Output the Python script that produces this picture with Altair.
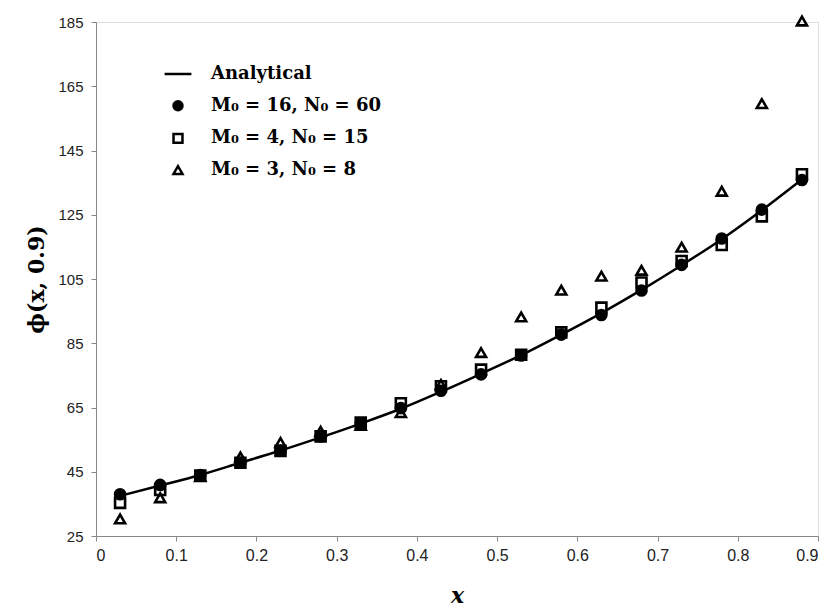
import altair as alt
import pandas as pd

x_vals = [0.03, 0.08, 0.13, 0.18, 0.23, 0.28, 0.33, 0.38, 0.43,
          0.48, 0.53, 0.58, 0.63, 0.68, 0.73, 0.78, 0.83, 0.88]
analytical = [37.5, 40.7, 44.0, 47.8, 51.6, 55.7, 60.0, 64.6, 69.9,
              75.5, 81.3, 87.7, 94.4, 101.6, 109.3, 117.4, 126.4, 136.0]
m16_n60 = [38.0, 40.9, 44.0, 47.8, 51.6, 56.0, 60.1, 64.8, 70.2,
           75.3, 81.2, 87.7, 93.8, 101.4, 109.4, 117.6, 126.6, 135.8]
m4_n15 = [35.3, 39.3, 43.8, 47.8, 51.5, 56.0, 60.3, 66.3, 71.6,
          76.8, 81.4, 88.4, 96.1, 103.9, 110.6, 115.6, 124.5, 137.6]
m3_n8 = [30.3, 36.9, 43.5, 49.6, 54.1, 57.6, 59.4, 63.4, 72.2,
         82.1, 93.2, 101.5, 105.9, 107.7, 114.9, 132.3, 159.6, 185.3]

series_names = ["Analytical", "M₀ = 16, N₀ = 60", "M₀ = 4, N₀ = 15", "M₀ = 3, N₀ = 8"]
y_ticks = [25, 45, 65, 85, 105, 125, 145, 165, 185]
x_ticks = [0, 0.1, 0.2, 0.3, 0.4, 0.5, 0.6, 0.7, 0.8, 0.9]

line_df = pd.DataFrame({"x": x_vals, "y": analytical})
pts = []
for name, vals in zip(series_names[1:], [m16_n60, m4_n15, m3_n8]):
    for xv, yv in zip(x_vals, vals):
        pts.append({"x": xv, "y": yv, "series": name})
pts_df = pd.DataFrame(pts)

x_enc = alt.X("x:Q", scale=alt.Scale(domain=[0, 0.9], nice=False),
              axis=alt.Axis(values=x_ticks, title="x", format="~g", grid=False,
                            titleFont="DejaVu Serif", titleFontSize=22,
                            titleFontStyle="italic", titleFontWeight="bold",
                            titleColor="black", titlePadding=22,
                            labelFont="Liberation Sans Narrow, Liberation Sans",
                            labelFontSize=16, labelColor="#222",
                            labelPadding=6))
y_enc = alt.Y("y:Q", scale=alt.Scale(domain=[25, 185], nice=False, zero=False),
              axis=alt.Axis(values=y_ticks, title="ϕ(x, 0.9)", grid=False,
                            titleFont="DejaVu Serif", titleFontSize=22,
                            titleFontWeight="bold", titleColor="black",
                            titlePadding=9,
                            labelFont="Liberation Sans", labelFontSize=15,
                            labelColor="#222", labelPadding=8))

line = alt.Chart(line_df).mark_line(color="black", strokeWidth=2.5,
                                    interpolate="monotone").encode(x=x_enc, y=y_enc)

def make_legend():
    return alt.Legend(title=None, orient="none", legendX=73, legendY=43,
                      labelFont="DejaVu Serif", labelFontWeight="bold",
                      labelFontSize=18, labelColor="black", labelLimit=400,
                      labelOffset=24, rowPadding=12.7,
                      symbolSize=80, symbolStrokeWidth=2.5)

points = alt.Chart(pts_df).mark_point(size=100, strokeWidth=2.6, opacity=1).encode(
    x="x:Q", y="y:Q",
    shape=alt.Shape("series:N",
                    scale=alt.Scale(domain=series_names,
                                    range=["M-3,0L3,0", "circle", "square", "triangle-up"]),
                    legend=make_legend()),
    fill=alt.Fill("series:N",
                  scale=alt.Scale(domain=series_names,
                                  range=["black", "black", "transparent", "transparent"]),
                  legend=make_legend()),
    stroke=alt.Stroke("series:N",
                      scale=alt.Scale(domain=series_names,
                                      range=["black", "black", "black", "black"]),
                      legend=make_legend()),
)

chart = (line + points).properties(
    width=722, height=514,
    autosize=alt.AutoSizeParams(type="none"),
    padding={"left": 96, "top": 22, "right": 14, "bottom": 79},
).configure_view(stroke=None).configure_axis(
    grid=False, domainColor="#888", tickColor="#888", tickSize=6, domainWidth=1.2
).configure(background="white")

chart.save("out.html", embed_options={"renderer": "svg", "actions": False})
